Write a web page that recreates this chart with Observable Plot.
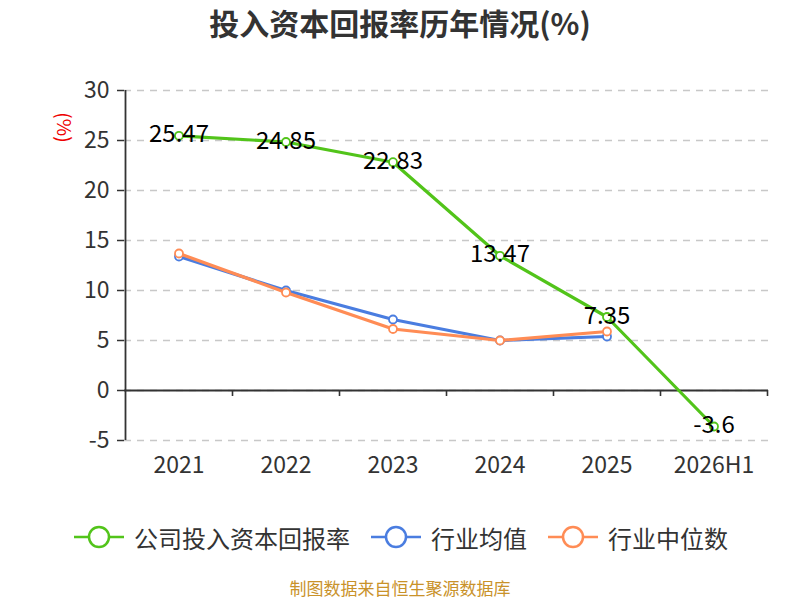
<!DOCTYPE html>
<html>
<head>
<meta charset="utf-8">
<script src="https://cdn.jsdelivr.net/npm/d3@7"></script>
<script src="https://cdn.jsdelivr.net/npm/@observablehq/plot@0.6"></script>
<style>
  body { margin: 0; background: #fff; font-family: "Noto Sans CJK SC", "Noto Sans", sans-serif; }
  #wrap { position: relative; width: 800px; height: 600px; overflow: hidden; }
  #title { position: absolute; top: 0; left: 0; width: 800px; height: 44px; line-height: 44px; text-align: center; font-size: 30px; font-weight: bold; color: #333; }
  #chart { position: absolute; top: 50px; left: 0; }
  #legend { position: absolute; top: 518px; left: 0; width: 800px; height: 38px; }
  .item { position: absolute; top: 0; height: 38px; display: flex; align-items: center; font-size: 24px; color: #333; }
  .item svg { margin-right: 10px; }
  #caption { position: absolute; top: 578px; left: 0; width: 800px; text-align: center; font-size: 17px; line-height: 20px; color: #c9922a; }
</style>
</head>
<body>
<div id="wrap">
  <div id="title">投入资本回报率历年情况(%)</div>
  <div id="chart"></div>
  <div id="legend"></div>
  <div id="caption">制图数据来自恒生聚源数据库</div>
</div>
<script>
const years = ["2021", "2022", "2023", "2024", "2025", "2026H1"];
const company = [25.47, 24.85, 22.83, 13.47, 7.35, -3.6];
const industryAvg = [13.4, 10.0, 7.1, 5.0, 5.4];
const industryMedian = [13.7, 9.8, 6.15, 5.0, 5.9];
const yTicks = [-5, 0, 5, 10, 15, 20, 25, 30];

const seriesNames = ["公司投入资本回报率", "行业均值", "行业中位数"];
const colors = ["#52c41a", "#4a7de0", "#ff8c55"];

const rows = (vals, s) => vals.map((v, i) => ({year: years[i], value: v, series: s}));
const dataC = rows(company, seriesNames[0]);
const dataA = rows(industryAvg, seriesNames[1]);
const dataM = rows(industryMedian, seriesNames[2]);

const FONT = "Noto Sans CJK SC, Noto Sans, sans-serif";
const base = {
  width: 800,
  height: 450,
  marginTop: 40,
  marginBottom: 60,
  marginLeft: 124,
  marginRight: 32,
  style: {fontFamily: FONT, color: "#333", background: "transparent"},
  x: {type: "band", domain: years, padding: 0, label: null},
  y: {type: "linear", domain: [-5, 30], label: null}
};

// first pass to read band width from the library scale
const probe = Plot.plot({...base, marks: [Plot.ruleY([0])]});
const bw = probe.scale("x").bandwidth;

function seriesMarks(data, color) {
  return [
    Plot.line(data, {x: "year", y: "value", stroke: color, strokeWidth: 3.2, curve: "linear"}),
    Plot.dot(data, {x: "year", y: "value", r: 4, stroke: color, strokeWidth: 1.8, fill: "#fff"})
  ];
}

const chart = Plot.plot({
  ...base,
  marks: [
    Plot.gridY(yTicks, {stroke: "#c8c8c8", strokeOpacity: 1, strokeDasharray: "7,6", strokeWidth: 1.3}),
    Plot.axisY(yTicks, {tickSize: 7, tickPadding: 8, fontSize: 23, stroke: "#333", fill: "#333", strokeWidth: 1.5, label: null, tickFormat: d => String(d)}),
    Plot.axisX({tickSize: 0, tickPadding: 16, fontSize: 23, fill: "#333", label: null}),
    Plot.ruleX([years[0]], {dx: -bw / 2, y1: -5, y2: 30, stroke: "#333", strokeWidth: 1.8}),
    Plot.ruleY([0], {stroke: "#333", strokeWidth: 1.8}),
    Plot.ruleX([years[years.length - 1]], {dx: bw / 2, y1: 0, y2: -0.6, stroke: "#333", strokeWidth: 1.6}),
    Plot.ruleX(years.slice(1), {dx: -bw / 2, y1: 0, y2: -0.6, stroke: "#333", strokeWidth: 1.6}),
    ...seriesMarks(dataA, colors[1]),
    ...seriesMarks(dataM, colors[2]),
    ...seriesMarks(dataC, colors[0]),
    Plot.text(dataC, {x: "year", y: "value", text: d => String(d.value), fontSize: 24, fill: "#000", dy: -1, stroke: "none"}),
    Plot.text(["(%)"], {frameAnchor: "top-left", textAnchor: "middle", lineAnchor: "middle", dx: -61, dy: 37, rotate: 90, fill: "#e00", fontSize: 19})
  ]
});
document.getElementById("chart").appendChild(chart);

// legend
const legendPos = [74, 371, 548];
const legend = document.getElementById("legend");
seriesNames.forEach((name, i) => {
  const div = document.createElement("div");
  div.className = "item";
  div.style.left = legendPos[i] + "px";
  const sw = d3.create("svg").attr("width", 50).attr("height", 24);
  sw.append("line").attr("x1", 0).attr("x2", 50).attr("y1", 12).attr("y2", 12).attr("stroke", colors[i]).attr("stroke-width", 2.5);
  sw.append("circle").attr("cx", 25).attr("cy", 12).attr("r", 10).attr("fill", "#fff").attr("stroke", colors[i]).attr("stroke-width", 2.5);
  div.appendChild(sw.node());
  const span = document.createElement("span");
  span.textContent = name;
  div.appendChild(span);
  legend.appendChild(div);
});
</script>
</body>
</html>
